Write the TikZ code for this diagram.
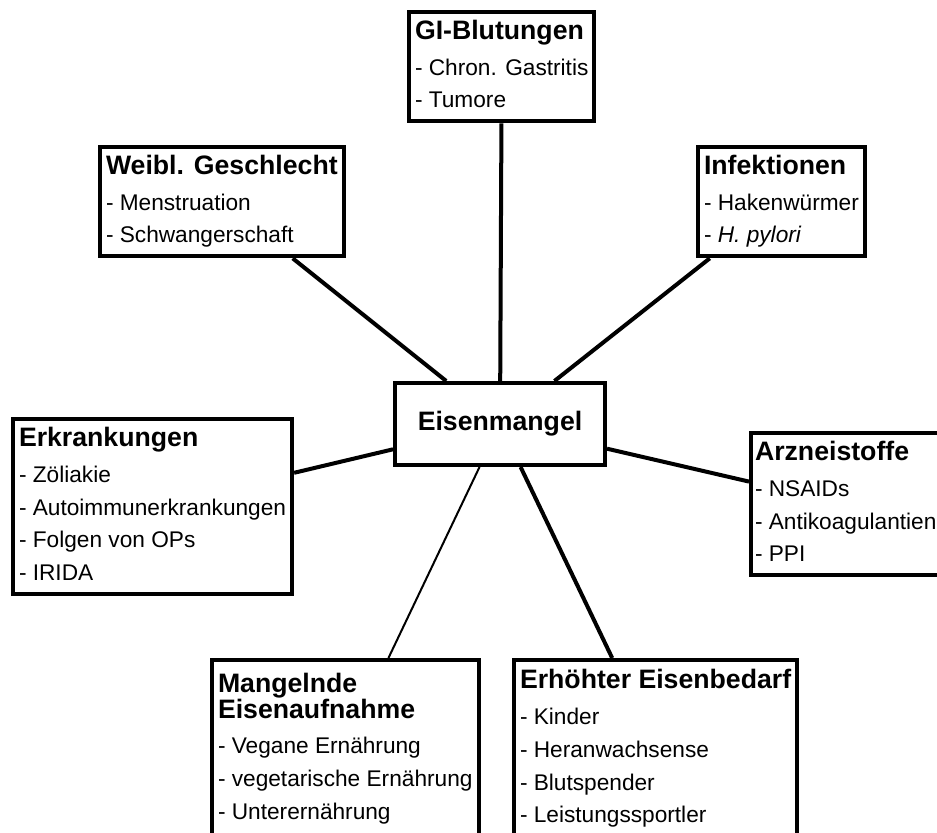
\documentclass[tikz,border=0pt]{standalone}
\usepackage{fontspec}
\setmainfont{Liberation Sans}

\newcommand{\causetitle}[1]{{\bfseries\fontsize{20}{24.5}\selectfont #1}}

\tikzset{every picture/.style={line width=0.75pt}}
\tikzset{
  causebox/.style={draw, line width=3pt, anchor=north west, align=left,
    inner xsep=4.5pt, inner ysep=6pt, text depth=4pt, font=\fontsize{17}{24.5}\selectfont},
  tallbox/.style={causebox, minimum height=133pt},
  mainbox/.style={draw, line width=3pt, minimum width=157.5pt, minimum height=61.5pt,
    font=\bfseries\fontsize{20}{24.5}\selectfont},
  link/.style={line width=3pt},
  thinlink/.style={line width=1.5pt}
}

\begin{document}
\begin{tikzpicture}[x=0.75pt,y=0.75pt,yscale=-1,xscale=1]
%set diagram size: 937 x 832
\clip (0,0) rectangle (937,832);

% Text Node
\node [mainbox] (eisen) at (500,424) {Eisenmangel};
% Text Node
\node [causebox] (gi) at (407,10) {\causetitle{GI-Blutungen}\\[2.5pt] - Chron. Gastritis\\ - Tumore};
% Text Node
\node [causebox] (weibl) at (98,145) {\causetitle{Weibl. Geschlecht}\\[2.5pt] - Menstruation\\ - Schwangerschaft};
% Text Node
\node [causebox] (infekt) at (696,145) {\causetitle{Infektionen}\\[2.5pt] - Hakenwürmer\\ - \textit{H. pylori}};
% Text Node
\node [causebox] (erkrank) at (11,417) {\causetitle{Erkrankungen}\\[2.5pt] - Zöliakie\\ - Autoimmunerkrankungen\\ - Folgen von OPs\\ - IRIDA};
% Text Node
\node [causebox, inner xsep=3pt] (arznei) at (749,431) {\causetitle{Arzneistoffe}\\[2.5pt] - NSAIDs\\ - Antikoagulantien\\ - PPI};
% Text Node
\node [tallbox] (aufnahme) at (210,658) {\causetitle{Mangelnde}\\[-5pt] \causetitle{Eisenaufnahme}\\[2pt] - Vegane Ernährung\\ - vegetarische Ernährung\\ - Unterernährung};
% Text Node
\node [tallbox] (bedarf) at (512,658) {\causetitle{Erhöhter Eisenbedarf}\\[2.5pt] - Kinder\\ - Heranwachsense\\ - Blutspender\\ - Leistungssportler};

% Connection
\draw [link] (gi) -- (eisen);
% Connection
\draw [link] (weibl) -- (eisen);
% Connection
\draw [link] (infekt) -- (eisen);
% Connection
\draw [link] (erkrank) -- (eisen);
% Connection
\draw [link] (arznei) -- (eisen);
% Connection
\draw [thinlink] (aufnahme) -- (eisen);
% Connection
\draw [link] (bedarf) -- (eisen);

\end{tikzpicture}
\end{document}
